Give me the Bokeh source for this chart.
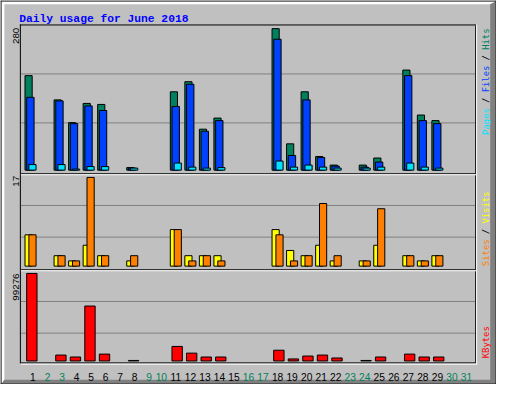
import math
import numpy as np
from bokeh.plotting import figure
from bokeh.models import Range1d
from bokeh.core.properties import value
from bokeh.embed import file_html
from bokeh.resources import INLINE

# ---------------- data ----------------
days = list(range(1, 32))
weekend_days = [2, 3, 9, 10, 16, 17, 23, 24, 30, 31]
hits = [187, 0, 139, 94, 132, 130, 0, 5, 0, 0, 155, 175, 81, 103, 0, 0, 0, 280, 52, 155, 27, 10, 0, 10, 24, 0, 198, 109, 98, 0, 0]
files = [144, 0, 137, 92, 127, 118, 0, 4, 0, 0, 126, 170, 77, 98, 0, 0, 0, 259, 29, 139, 25, 8, 0, 6, 16, 0, 187, 98, 92, 0, 0]
pages = [11, 0, 11, 2, 7, 7, 0, 4, 0, 0, 14, 6, 4, 5, 0, 0, 0, 18, 6, 10, 6, 4, 0, 4, 6, 0, 14, 6, 4, 0, 0]
visits = [6, 0, 2, 1, 4, 2, 0, 1, 0, 0, 7, 2, 2, 2, 0, 0, 0, 7, 3, 2, 4, 1, 0, 1, 4, 0, 2, 1, 2, 0, 0]
sites = [6, 0, 2, 1, 17, 2, 0, 2, 0, 0, 7, 1, 2, 1, 0, 0, 0, 6, 1, 2, 12, 2, 0, 1, 11, 0, 2, 1, 2, 0, 0]
kbytes = [99276, 0, 6700, 4500, 62300, 7800, 0, 600, 0, 0, 16500, 8900, 4500, 4500, 0, 0, 0, 12200, 2300, 5600, 6700, 3400, 0, 600, 4500, 0, 7800, 4500, 4500, 0, 0]
title_text = "Daily usage for June 2018"

# ---------------- colours ----------------
C_HITS, C_FILES, C_PAGES = "#00805c", "#0040ff", "#00e0ff"
C_VISITS, C_SITES, C_KB = "#ffff00", "#ff8000", "#ff0000"
BG, DARK, GRID = "#c0c0c0", "#808080", "#808080"

W, H = 496, 384          # figure size (fits 512x400 window with 8px margin)
RW, RH = 512, 400        # reference layout units
S = 0.965                # font scale

p = figure(width=W, height=H, output_backend="svg", toolbar_location=None,
           x_range=Range1d(0, RW), y_range=Range1d(RH, 0),
           x_axis_location=None, y_axis_location=None, min_border=0,
           background_fill_color=BG, border_fill_color=BG, outline_line_color=None)
p.grid.visible = False

# day scale: day d centred at 31 + 15*(d-1) layout px
PX_DAY = 15.0
p.extra_x_ranges = {"day": Range1d(1 + (0 - 31) / PX_DAY, 1 + (RW - 31) / PX_DAY)}


def vrange(base_px, top_px, vmax):
    f = lambda y: vmax * (base_px - y) / (base_px - top_px)
    return Range1d(f(RH), f(0))


p.extra_y_ranges = {
    "p1": vrange(176.7, 29.3, max(hits)),
    "p2": vrange(276.7, 184.3, max(sites + visits)),
    "p3": vrange(375.5, 284.3, max(kbytes)),
}

# ---------------- decoration: bevel & frames ----------------
p.patch([1, 511, 506, 4, 4, 1], [1, 1, 4, 4, 396, 399], fill_color="white", line_color=None)
p.patch([511, 511, 1, 4, 505.5, 505.5], [1, 399, 399, 395, 395, 4], fill_color=DARK, line_color=None)
p.segment(x0=[0, 0, 0.5, 511.5], y0=[0.5, 399.5, 0, 0], x1=[512, 512, 0.5, 511.5], y1=[0.5, 399.5, 400, 400],
          line_color="black", line_width=1)

# grid lines
gy = [76.5, 127.5, 213.5, 246.5, 313.5, 346.5]
p.segment(x0=[21] * 6, y0=gy, x1=[490] * 6, y1=gy, line_color=GRID, line_width=1)

# frame lines
p.segment(x0=[20, 20.5, 21, 21, 21, 490.5], y0=[25.5, 25, 180.5, 280.5, 377.5, 26],
          x1=[491, 20.5, 490, 490, 490, 490.5], y1=[25.5, 378, 180.5, 280.5, 377.5, 378],
          line_color="black", line_width=1)
p.segment(x0=[21, 21, 21, 491.5], y0=[181.5, 281.5, 378.8, 25],
          x1=[491, 491, 492, 491.5], y1=[181.5, 281.5, 378.8, 379],
          line_color="white", line_width=1)


# ---------------- bars ----------------
def bars(vals, off_px, w_px, color, yname):
    d = np.array(days, dtype=float)
    v = np.array(vals, dtype=float)
    m = v > 0
    p.vbar(x=d[m] + off_px / PX_DAY, top=v[m], bottom=0, width=w_px / PX_DAY,
           fill_color=color, line_color="black", line_width=1,
           x_range_name="day", y_range_name=yname)


bars(hits, -2.0, 7.4, C_HITS, "p1")
bars(files, -0.15, 7.6, C_FILES, "p1")
bars(pages, 2.0, 7.4, C_PAGES, "p1")
bars(visits, -2.0, 7.4, C_VISITS, "p2")
bars(sites, 2.0, 7.4, C_SITES, "p2")
bars(kbytes, 1.35, 10.7, C_KB, "p3")

# ---------------- texts ----------------
p.text(x=[19.3], y=[19.2], text=[title_text], text_font=value("Liberation Mono"),
       text_font_style="bold", text_font_size=f"{11.7 * S:.2f}px", text_color="#0000ff",
       text_baseline="alphabetic", text_align="left")

# day labels
lx = [d + (2.5 / PX_DAY if d < 10 else 0) for d in days]
lc = ["#00805c" if d in weekend_days else "black" for d in days]
p.text(x=lx, y=[392.6] * len(days), text=[str(d) for d in days], x_range_name="day",
       text_color=lc, text_font=value("Liberation Sans"), text_font_size=f"{10.6 * S:.2f}px",
       text_align="center", text_baseline="alphabetic")

# max labels (left, rotated)
p.text(x=[15.5, 15.5, 15.5], y=[28.3, 182.5, 284.3],
       text=[str(max(hits)), str(max(sites + visits)), str(max(kbytes))],
       angle=math.pi / 2, text_align="right", text_baseline="middle", text_color="black",
       text_font=value("Liberation Sans"), text_font_size=f"{10.2 * S:.2f}px")

# legend labels (right, rotated, reading upward)
FS_R = 9.2
pitch = 0.602 * FS_R


def rlabel(parts, start_y):
    xs, ys, ts, cs = [], [], [], []
    i = 0
    for t, c in parts:
        st = t.strip()
        if st:
            lead = len(t) - len(t.lstrip())
            xs.append(500.8)
            ys.append(start_y - (i + lead) * pitch)
            ts.append(st)
            cs.append(c)
        i += len(t)
    p.text(x=xs, y=ys, text=ts, text_color=cs, angle=math.pi / 2, text_align="left",
           text_baseline="middle", text_font=value("DejaVu Sans Mono"),
           text_font_size=f"{FS_R * S:.2f}px")


rlabel([("Pages", C_PAGES), (" / ", "black"), ("Files", C_FILES), (" / ", "black"), ("Hits", C_HITS)], 140.0)
rlabel([("Sites", C_SITES), (" / ", "black"), ("Visits", C_VISITS)], 276.7)
rlabel([("KBytes", C_KB)], 372.7)

open("out.html", "w").write(file_html(p, INLINE))
